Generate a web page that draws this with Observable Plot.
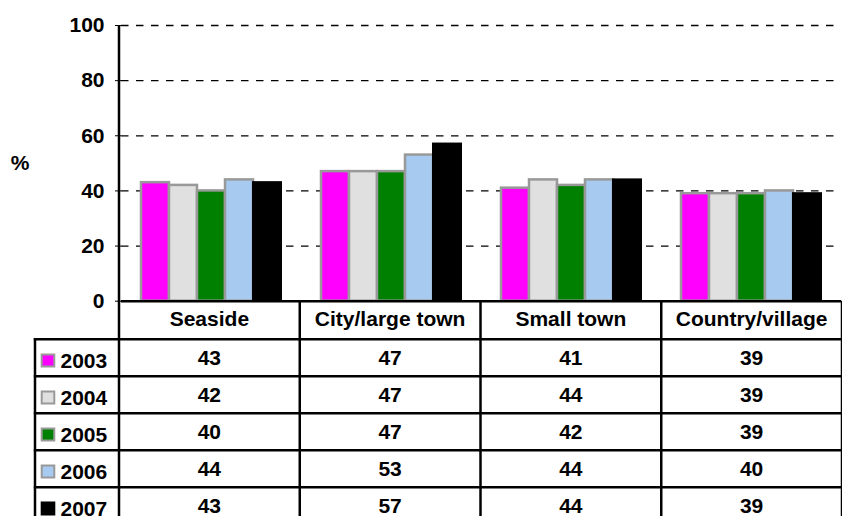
<!DOCTYPE html>
<html><head><meta charset="utf-8">
<script src="https://cdn.jsdelivr.net/npm/d3@7"></script>
<script src="https://cdn.jsdelivr.net/npm/@observablehq/plot@0.6"></script>
<style>
body{margin:0;background:#fff;}
#chart{width:842px;height:516px;overflow:hidden;position:relative;background:#fff}
</style></head><body><div id="chart"></div>
<script>
const categories = ["Seaside", "City/large town", "Small town", "Country/village"];
const years = ["2003", "2004", "2005", "2006", "2007"];
const v2003 = [43, 47, 41, 39];
const v2004 = [42, 47, 44, 39];
const v2005 = [40, 47, 42, 39];
const v2006 = [44, 53, 44, 40];
const v2007 = [43, 57, 44, 39];
const yTicks = [0, 20, 40, 60, 80, 100];
const colors = ["#FF00FF", "#E0E0E0", "#008000", "#A6CAF0", "#000000"];
const unitLabel = "%";

const series = [v2003, v2004, v2005, v2006, v2007];
const data = years.flatMap((yr, i) => categories.map((c, j) => ({cat: c, year: yr, value: series[i][j]})));

const font = "'Liberation Sans', Arial, sans-serif";
const fs = 21;
const W = 842, H = 516;
const chart = Plot.plot({
  width: W, height: H,
  marginLeft: 119, marginRight: -5, marginTop: 25, marginBottom: 215.3,
  style: {fontFamily: font, fontSize: fs + "px", fontWeight: "bold", color: "black", background: "white", overflow: "visible"},
  facet: {data, x: "cat", marginTop: 0, marginBottom: 0, marginLeft: 0, marginRight: 0, label: null},
  fx: {domain: categories, padding: 0, axis: null},
  x: {domain: years, paddingInner: 0, paddingOuter: 0.7, axis: null},
  y: {domain: [0, 100], ticks: yTicks, tickSize: 6, tickPadding: 11, label: null},
  color: {domain: years, range: colors},
  marks: [
    Plot.ruleY(yTicks.filter(d => d > 0), {stroke: "black", strokeWidth: 1.3, strokeDasharray: "7.5,7.5"}),
    Plot.barY(data, {filter: d => d.year !== "2007", x: "year", y: "value", fill: "year", stroke: "#999999", strokeWidth: 2.5}),
    Plot.barY(data, {filter: d => d.year === "2007", x: "year", y: "value", fill: "year", stroke: "black", strokeWidth: 2}),
    Plot.ruleY([0], {stroke: "black", strokeWidth: 2.5})
  ]
});
document.getElementById("chart").appendChild(chart);

// axis line + data table drawn with the plot's own scales
const svg = d3.select(chart);
const fxS = chart.scale("fx"), yS = chart.scale("y");
const fxR = fxS.range;
const n = categories.length;
const step = (fxR[1] - fxR[0]) / n;
const colLeft = i => fxR[0] + i * step;
const tTop = yS.apply(0);

svg.append("line")
  .attr("x1", fxR[0]).attr("x2", fxR[0])
  .attr("y1", yS.apply(0) + 1).attr("y2", yS.apply(100))
  .attr("stroke", "black").attr("stroke-width", 2.5);

svg.append("text")
  .attr("x", 20).attr("y", yS.apply(50)).attr("dy", "0.35em")
  .attr("text-anchor", "middle").attr("font-family", font).attr("font-weight", "bold").attr("font-size", fs)
  .text(unitLabel);

const headH = 38.5, rowH = 37, leftX = 35;
const g = svg.append("g").attr("font-family", font).attr("font-weight", "bold").attr("font-size", fs).attr("fill", "black");
const tableBottom = tTop + headH + rowH * (years.length);

for (let i = 0; i <= n; i++) {
  g.append("line").attr("x1", colLeft(i)).attr("x2", colLeft(i)).attr("y1", tTop).attr("y2", tableBottom)
    .attr("stroke", "black").attr("stroke-width", 2.5);
}
g.append("line").attr("x1", leftX).attr("x2", leftX).attr("y1", tTop + headH - 1.2).attr("y2", tableBottom)
  .attr("stroke", "black").attr("stroke-width", 2.5);
for (let r = 0; r <= years.length; r++) {
  const yy = tTop + headH + r * rowH;
  g.append("line").attr("x1", leftX - 1.2).attr("x2", colLeft(n) + 2).attr("y1", yy).attr("y2", yy)
    .attr("stroke", "black").attr("stroke-width", 2.5);
}
categories.forEach((c, i) => {
  g.append("text").attr("x", colLeft(i) + step / 2).attr("y", tTop + 25.5)
    .attr("text-anchor", "middle").text(c);
});
years.forEach((yr, r) => {
  const ry = tTop + headH + r * rowH;
  g.append("rect").attr("x", 41.7).attr("y", ry + 15.3).attr("width", 12.6).attr("height", 12)
    .attr("fill", colors[r]).attr("stroke", yr === "2007" ? "black" : "#999999").attr("stroke-width", 2);
  g.append("text").attr("x", 60.5).attr("y", ry + 29).attr("text-anchor", "start").text(yr);
  series[r].forEach((v, j) => {
    g.append("text").attr("x", colLeft(j) + step / 2).attr("y", ry + 25.7)
      .attr("text-anchor", "middle").text(v);
  });
});
</script>
</body></html>
